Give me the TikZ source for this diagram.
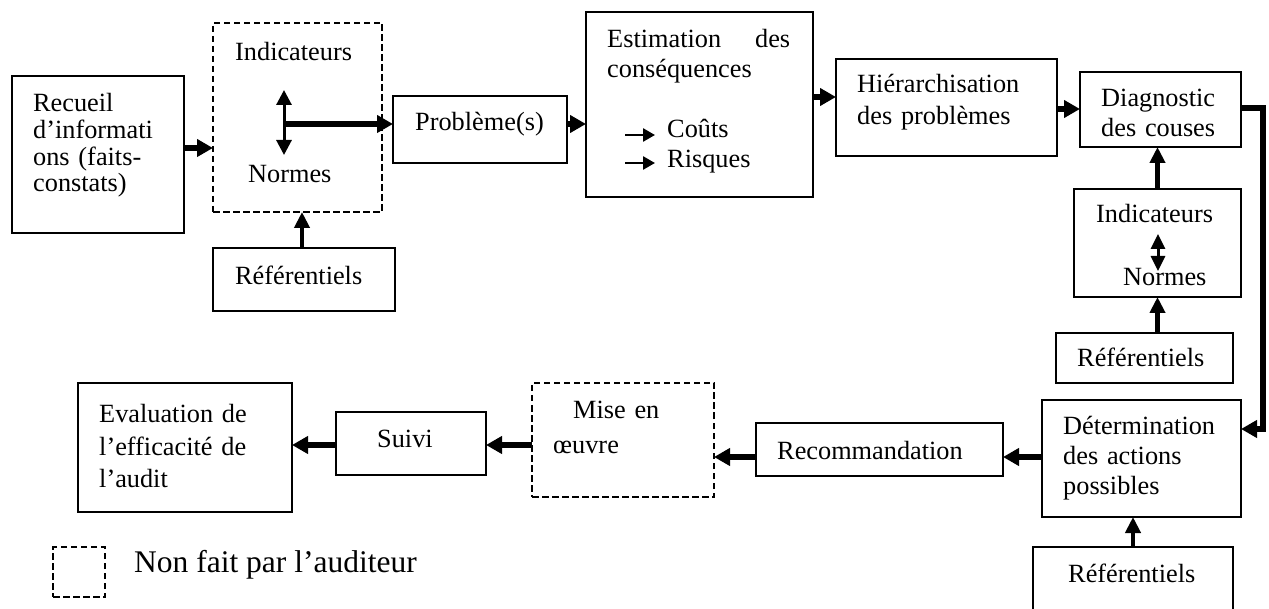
\documentclass[tikz,border=0pt]{standalone}
\usepackage{fontspec}
\setmainfont{Liberation Serif}
\usetikzlibrary{arrows.meta}

\tikzset{
  box/.style={draw, line width=1.2pt, inner sep=0pt, outer sep=0pt, anchor=north west},
  dbox/.style={box, dash pattern=on 6.5pt off 3.5pt},
  txt/.style={inner sep=0pt, anchor=base west, align=left,
    font=\fontsize{26.3}{30.5}\selectfont},
  flow/.style={line width=5.5pt, -{Triangle[length=16pt,width=17pt]}},
  upflow/.style={line width=4.5pt, -{Triangle[length=16pt,width=15pt]}},
  dbl/.style={line width=3pt, {Triangle[length=15pt,width=15pt]}-{Triangle[length=15pt,width=15pt]}},
  dblsmall/.style={line width=3pt, {Triangle[length=15pt,width=14pt]}-{Triangle[length=15pt,width=14pt]}},
  small/.style={line width=2.6pt, -{Triangle[length=12pt,width=13pt]}},
}

\begin{document}
\begin{tikzpicture}[x=1pt, y=-1pt]
\useasboundingbox (0,0) rectangle (1269,609);
\clip (0,0) rectangle (1269,609);

% ---------- boxes ----------
\node[box,  minimum width=172pt, minimum height=157pt] (rec)   at (12,76)   {};
\node[dbox, minimum width=169pt, minimum height=189pt] (ind)   at (213,23)  {};
\node[box,  minimum width=182pt, minimum height=63pt]  (ref1)  at (213,248) {};
\node[box,  minimum width=174pt, minimum height=67pt]  (prob)  at (393,96)  {};
\node[box,  minimum width=227pt, minimum height=185pt] (est)   at (586,12)  {};
\node[box,  minimum width=221pt, minimum height=97pt]  (hier)  at (836,59)  {};
\node[box,  minimum width=161pt, minimum height=75pt]  (diag)  at (1080,72) {};
\node[box,  minimum width=167pt, minimum height=108pt] (ind2)  at (1074,189){};
\node[box,  minimum width=177pt, minimum height=50pt]  (ref2)  at (1056,333){};
\node[box,  minimum width=199pt, minimum height=117pt] (det)   at (1042,400){};
\node[box,  minimum width=200pt, minimum height=75pt]  (ref3)  at (1033,547){};
\node[box,  minimum width=247pt, minimum height=53pt]  (reco)  at (756,423) {};
\node[dbox, minimum width=182pt, minimum height=114pt] (mise)  at (532,383) {};
\node[box,  minimum width=150pt, minimum height=63pt]  (suivi) at (336,412) {};
\node[box,  minimum width=214pt, minimum height=129pt] (eval)  at (78,383)  {};
\node[dbox, minimum width=52pt,  minimum height=50pt]  (leg)   at (53,547)  {};

% ---------- texts ----------
\node[txt, text width=150pt, font=\fontsize{26.3}{26.7}\selectfont] (trec) at (33,111.7)
  {Recueil\\d’informati\\ons (faits-\\constats)};
\node[txt] (tind)  at (235,60.5) {Indicateurs};
\node[txt] (tnor)  at (248,183)  {Normes};
\node[txt] (tref1) at (235,285)  {Référentiels};
\node[txt] (tprob) at (415,131)  {Problème(s)};
\node[txt, text width=183pt, font=\fontsize{26.3}{30}\selectfont] (test) at (607,48)
  {Estimation\hfill des\\conséquences};
\node[txt] (cout) at (667,138) {Coûts};
\node[txt] (risq) at (667,168) {Risques};
\node[txt, text width=200pt, font=\fontsize{26.3}{32}\selectfont] (thier) at (857,93)
  {Hiérarchisation\\des problèmes};
\node[txt, text width=140pt, font=\fontsize{26.3}{30}\selectfont] (tdiag) at (1101,107)
  {Diagnostic\\des couses};
\node[txt] (tind2) at (1096,223) {Indicateurs};
\node[txt] (tnor2) at (1123,286) {Normes};
\node[txt] (tref2) at (1077,367) {Référentiels};
\node[txt, text width=175pt, font=\fontsize{26.3}{30.5}\selectfont] (tdet) at (1063,434)
  {Détermination\\des actions\\possibles};
\node[txt] (tref3) at (1068,582) {Référentiels};
\node[txt] (treco) at (777,459)  {Recommandation};
\node[txt, text width=150pt, font=\fontsize{26.3}{35}\selectfont] (tmise) at (553,418)
  {\hspace*{20pt}Mise en\\œuvre};
\node[txt] (tsuivi) at (377,447) {Suivi};
\node[txt, text width=190pt, font=\fontsize{26.3}{33}\selectfont] (teval) at (99,422)
  {Evaluation de\\l’efficacité de\\l’audit};
\node[txt, font=\fontsize{31.5}{36}\selectfont] (tleg) at (134,572) {Non fait par l’auditeur};

% ---------- connectors ----------
\draw[flow] ([yshift=6.5pt]rec.east) coordinate (s1) -- (s1 -| ind.west);

% indicators <-> norms, and the outcome towards the problems
\coordinate (i1) at (284,90);
\coordinate (i2) at (284,155);
\coordinate (i3) at (284,124);
\draw[dbl] (i1) -- (i2);
\draw[flow] (i3) -- (i3 -| prob.west);

\draw[upflow] ([xshift=-2pt]ref1.north) coordinate (s3) -- (s3 |- ind.south);
\draw[flow] ([yshift=5.5pt]prob.east) coordinate (s4) -- (s4 -| est.west);

\draw[small, shorten >=12pt] (625,135) coordinate (k1) -- (k1 -| cout.west);
\draw[small, shorten >=12pt] (625,163) coordinate (k2) -- (k2 -| risq.west);

\draw[flow] ([yshift=7.5pt]est.east) coordinate (s5) -- (s5 -| hier.west);
\draw[flow] ([yshift=-1.5pt]hier.east) coordinate (s6) -- (s6 -| diag.west);

\draw[flow] ([yshift=1.5pt]diag.east) -- ++(22,0) |- ([yshift=29.5pt]det.east);

\draw[upflow] (ind2.north) coordinate (s8) -- (s8 |- diag.south);
\coordinate (j1) at (1158,234);
\coordinate (j2) at (1158,271);
\draw[dblsmall] (j1) -- (j2);
\draw[upflow] (ind2.south |- ref2.north) -- (ind2.south);
\draw[upflow] (ref3.north) coordinate (s11) -- (s11 |- det.south);

\draw[flow] ([yshift=1.5pt]det.west) coordinate (s12) -- (s12 -| reco.east);
\draw[flow] ([yshift=-7.5pt]reco.west) coordinate (s13) -- (s13 -| mise.east);
\draw[flow] ([yshift=-5pt]mise.west) coordinate (s14) -- (s14 -| suivi.east);
\draw[flow] ([yshift=-1.5pt]suivi.west) coordinate (s15) -- (s15 -| eval.east);
\end{tikzpicture}
\end{document}
